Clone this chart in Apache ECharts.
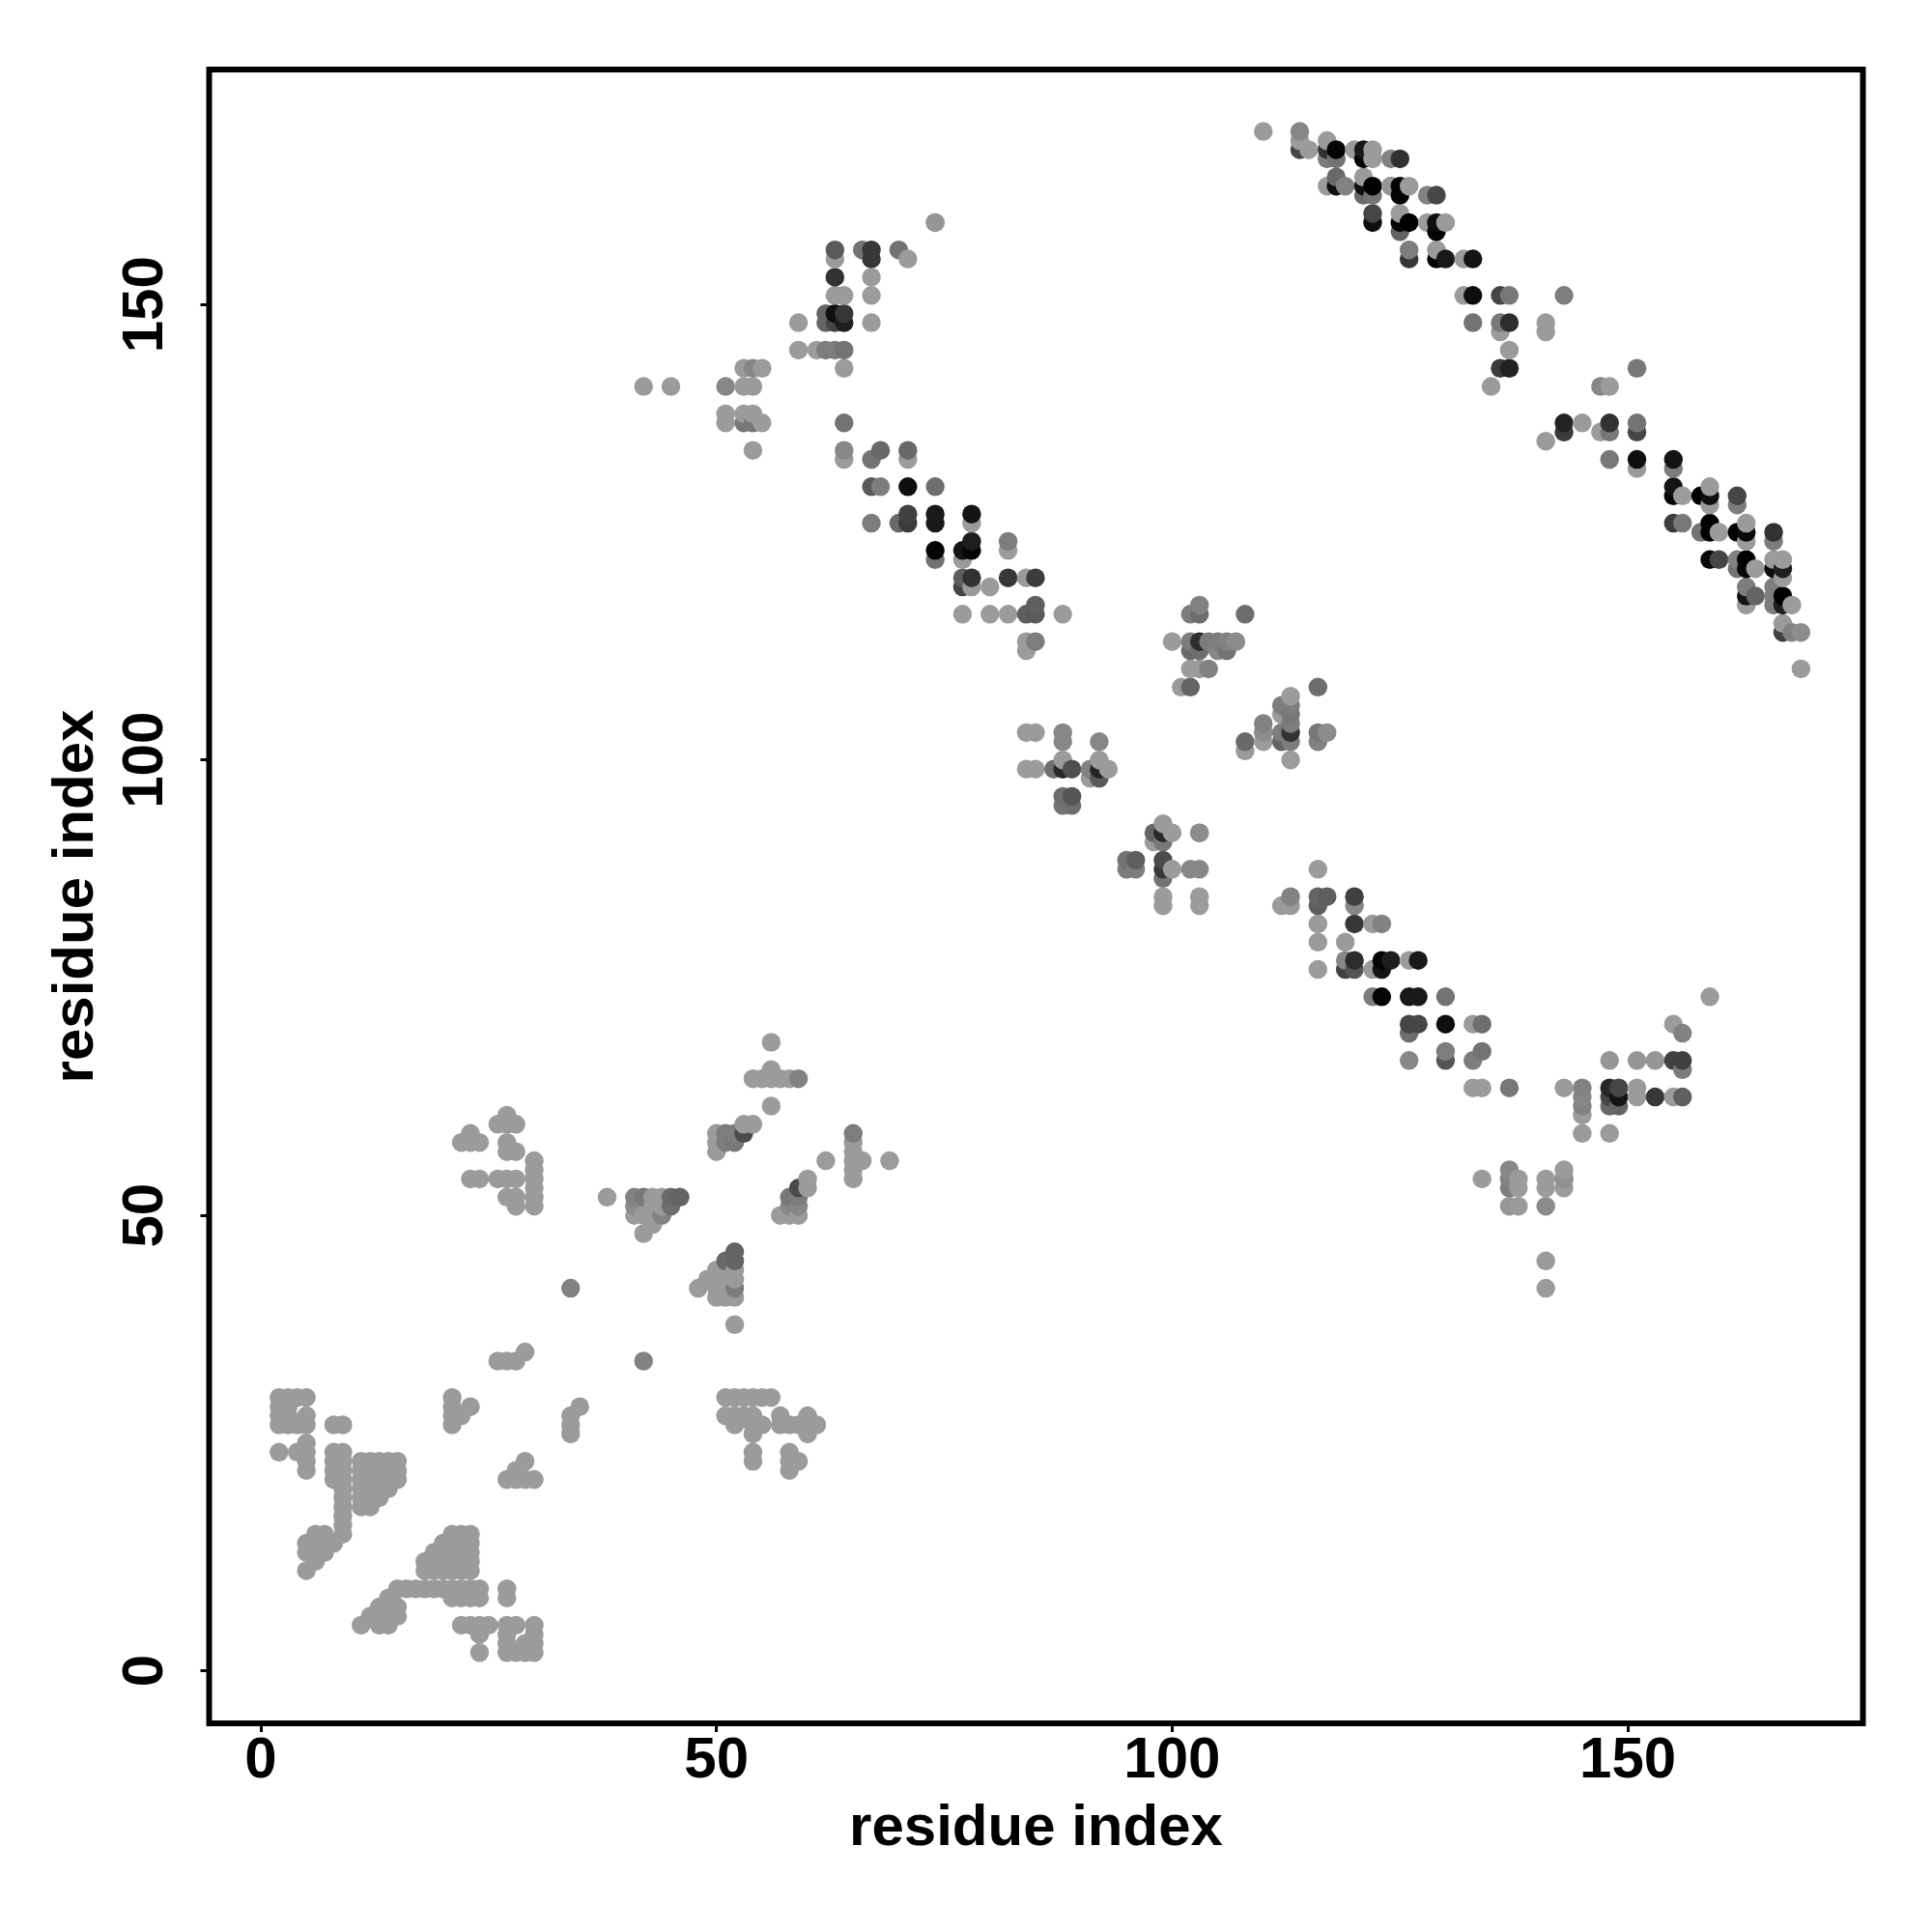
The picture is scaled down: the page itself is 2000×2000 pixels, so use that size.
<!DOCTYPE html>
<html>
<head>
<meta charset="utf-8">
<style>html,body{margin:0;padding:0;background:#fff}#chart{width:2000px;height:2000px}</style>
<script src="https://cdn.jsdelivr.net/npm/echarts@6/dist/echarts.min.js"></script>
</head>
<body>
<div id="chart"></div>
<script>
const xTicks = [0, 50, 100, 150];
const yTicks = [0, 50, 100, 150];
const axisTitle = 'residue index';
const lightGray = 155;

// light contacts: [residue y, [residue x ...]]
const lightRows = [
[169,[110]],[168,[114,117]],[167,[115,120,122]],[166,[122]],[164,[121]],[163,[117,124,126]],
[160,[125]],[159,[74,128,130]],[156,[129]],[155,[63,71,132]],[153,[67]],[151,[63,64,67,132]],
[148,[59,67,141]],[147,[136,141]],[145,[59,61,137]],[143,[53,55,64]],[141,[42,45,53,54,135,148]],
[138,[51,53,54]],[137,[51,55,145]],[136,[147]],[135,[141]],[134,[54]],[133,[64,71]],[132,[151]],
[130,[159]],[129,[156]],[128,[159]],[126,[78,163]],[125,[160]],[124,[163]],[123,[82]],
[122,[77,166,167]],[121,[164]],[120,[84,167]],[119,[78,80]],[117,[163,168]],[116,[77,80,82,88]],
[115,[167]],[113,[84,100]],[112,[84]],[110,[102,103,169]],[108,[101]],[107,[113]],[105,[112]],
[103,[84,85]],[102,[110]],[101,[108]],[100,[88,92,113]],[99,[84,85,93]],[98,[91]],[93,[99]],
[92,[100,103]],[91,[98]],[88,[100,116]],[85,[99,103]],[84,[99,103,112,113]],[82,[116,122]],
[80,[116,119]],[78,[126]],[77,[116,122]],[74,[159]],[71,[133,155]],[69,[56]],[66,[56]],
[65,[54,55,56,57,58]],[64,[133,134,143,151]],[63,[151,155]],[62,[56]],[61,[27,145]],
[60,[26,27,28,53,54]],[59,[23,50,145,148]],[58,[22,23,24,27,50,65]],[57,[27,28,50,65]],
[56,[30,62,65,66,69]],[55,[30,65,143]],[54,[23,24,26,27,28,30,60,65,134,138,141,143]],
[53,[30,60,138,141,143]],[52,[27,28,30,38,43,44]],[51,[28,30,43,44,138]],[50,[41,42,43,44,57,58,59]],
[49,[43]],[48,[42]],[45,[141]],[44,[50,51,52]],[43,[49,50,51,52]],[42,[48,50,51,141]],[41,[50,51,52]],
[38,[52]],[35,[29]],[34,[26,27,28]],[30,[2,3,4,5,21,51,52,53,54,55,56]],[29,[2,3,21,23,35]],
[28,[2,3,5,21,22,34,51,52,53,54,57,60]],[27,[2,3,4,5,8,9,21,34,52,54,55,57,58,59,60,61]],
[26,[34,54,60]],[25,[5]],[24,[2,4,5,8,9,54,58]],[23,[5,8,9,11,12,13,14,15,29,54,58,59]],
[22,[5,8,9,11,12,13,14,15,28,58]],[21,[8,9,11,12,13,14,15,27,28,29,30]],[20,[9,11,12,13,14]],
[19,[9,11,12,13]],[18,[9,11,12]],[17,[9]],[16,[9]],[15,[6,7,9,21,22,23]],[14,[5,6,7,8,20,21,22,23]],
[13,[5,6,7,19,20,21,22,23]],[12,[6,18,19,20,21,22,23]],[11,[5,18,19,20,21,22,23]],
[9,[15,16,17,18,19,20,21,22,23,24,27]],[8,[14,21,22,23,24,27]],[7,[13,14,15]],[6,[12,13,14,15]],
[5,[11,13,14,22,23,24,25,27,28,30]],[4,[24,27,30]],[3,[27,29,30]],[2,[24,27,28,29,30]]
];

// darker contacts in the lower half of the map: [x, y, gray]
const shadedLower = [
[41,52,130],[42,52,120],[45,52,105],[46,52,100],[41,51,140],[45,51,110],[44,50,130],
[34,42,130],[42,34,130],[52,46,100],[51,45,105],[52,45,100],[52,42,125],
[51,59,125],[52,59,125],[53,59,75],[51,58,125],[52,58,120],[59,65,130],
[59,53,75],[58,52,120],[59,52,125],[58,51,135],[59,51,135],[65,59,125]
];
// helix / strand contacts around x 112-159, y 42-88
const shadedMiddleRight = [
[113,85,130],[116,85,100],[117,85,95],[116,84,95],[120,85,65],[120,84,135],
[120,82,55],[123,82,130],[119,78,135],[120,78,45],[123,78,5],[124,78,30],[127,78,25],
[119,77,65],[120,77,85],[123,77,20],[122,74,125],[123,74,5],[126,74,25],[127,74,25],[130,74,115],
[126,71,70],[127,71,70],[130,71,15],[134,71,110],[126,70,110],[130,68,125],[134,68,115],
[126,67,135],[130,67,85],[133,67,125],[137,64,120],[145,64,130],[148,64,40],[149,64,70],
[145,63,135],[148,63,70],[149,63,20],[153,63,55],[156,63,95],[145,62,130],[148,62,105],[149,62,100],
[148,67,150],[151,67,150],[153,67,150],[155,67,65],[156,67,65],[156,66,125],[156,70,130],
[137,55,135],[137,54,130],[137,53,125],[141,51,140],[143,54,145],[137,51,150]
];
// contacts around x 84-117, y 84-117
const shadedCentre = [
[103,117,130],[102,116,125],[103,116,110],[108,116,110],[102,113,125],[103,113,45],[104,113,125],
[105,113,125],[106,113,130],[107,113,140],[102,112,105],[103,112,110],[105,112,135],[106,112,115],
[104,110,130],[102,108,100],[116,108,110],[112,106,125],[113,106,125],[113,105,120],[110,104,130],
[113,104,125],[110,103,140],[112,103,125],[113,103,50],[116,103,120],[117,103,140],[112,102,100],
[113,102,125],[116,102,130],[108,102,105],[88,103,135],[88,102,135],[92,102,135],
[87,99,110],[88,99,40],[89,99,80],[91,99,130],[92,99,35],[92,98,90],[88,96,110],[89,96,85],
[88,95,115],[89,95,110],[95,89,115],[96,89,95],[95,88,125],[96,88,125],[98,92,100],[99,92,40],
[99,91,120],[99,89,75],[99,88,55],[102,88,135],[103,88,135],[99,87,115],[103,92,140]
];
// contacts around x 42-88, y 112-159
const shadedUpperMiddle = [
[63,156,90],[66,156,115],[67,156,55],[67,155,55],[70,156,115],[63,153,50],[62,149,100],[63,149,15],
[64,149,55],[62,148,100],[63,148,70],[64,148,30],[62,145,125],[63,145,125],[64,145,115],
[54,143,135],[51,141,135],[53,137,120],[54,137,120],[64,137,115],[64,134,135],[67,133,115],
[68,134,105],[71,134,105],[67,130,90],[68,130,125],[71,130,15],[74,130,110],[71,127,65],[74,127,25],
[78,127,20],[67,126,125],[70,126,105],[71,126,60],[74,126,25],[78,124,30],[82,124,125],[74,123,5],
[77,123,20],[78,123,5],[74,122,115],[77,120,95],[78,120,50],[82,120,55],[85,120,60],[77,119,70],
[85,117,95],[84,116,95],[85,116,90],[85,113,125],[74,159,150]
];
// top-right diagonal band, x 114-169, y 110-169
const shadedUpperRight = [
[114,169,135],[114,167,70],[117,167,50],[118,167,5],[117,166,125],[118,166,115],[121,167,25],
[121,166,5],[124,166,130],[125,166,50],[118,164,105],[118,163,15],[119,163,130],[121,163,15],
[122,163,0],[124,163,150],[125,163,5],[121,162,105],[122,162,115],[125,162,5],[128,162,130],
[129,162,70],[122,160,70],[122,159,15],[125,159,5],[126,159,0],[129,159,15],[125,158,100],[129,158,5],
[126,156,125],[126,155,55],[129,155,5],[130,155,25],[133,155,20],[133,151,15],[136,151,70],
[137,151,120],[143,151,125],[133,148,115],[136,148,120],[137,148,45],[136,143,60],[137,143,35],
[151,143,120],[147,141,135],[143,137,35],[148,137,50],[151,137,115],[143,136,60],[148,136,120],
[151,136,70],[148,133,120],[151,133,15],[155,133,20],[155,132,125],[155,130,20],[155,129,5],
[158,129,0],[159,129,15],[162,129,70],[162,128,125],[155,126,60],[156,126,120],[159,126,0],
[158,125,115],[159,125,0],[162,125,0],[163,125,10],[166,125,50],[166,124,125],[159,122,10],
[160,122,70],[162,122,130],[163,122,0],[162,121,115],[163,121,5],[166,121,10],[167,121,30],
[163,119,125],[166,119,125],[163,118,20],[164,118,100],[166,118,125],[167,118,0],[166,117,125],
[167,117,30],[167,114,65],[168,114,130],[169,114,140]
];

const lightPoints = [];
lightRows.forEach(function (row) {
  row[1].forEach(function (x) { lightPoints.push([x, row[0], lightGray]); });
});
const contacts = lightPoints.concat(shadedLower, shadedMiddleRight, shadedCentre, shadedUpperMiddle, shadedUpperRight)
  .sort(function (a, b) { return a[0] - b[0] || a[1] - b[1]; });

const fontFamily = '"Liberation Sans", Arial, sans-serif';
const chart = echarts.init(document.getElementById('chart'), null, { renderer: 'canvas' });
chart.setOption({
  animation: false,
  backgroundColor: '#ffffff',
  grid: { show: true, left: 216.5, right: 71.5, top: 72, bottom: 216, borderColor: '#000', borderWidth: 6, backgroundColor: 'transparent' },
  xAxis: {
    type: 'value', min: -5.67, max: 175.8, splitLine: { show: false }, axisLine: { show: false, onZero: false },
    axisTick: { show: true, length: 9, customValues: xTicks, lineStyle: { color: '#000', width: 3 } },
    axisLabel: { customValues: xTicks, margin: 9, color: '#000', fontSize: 60, fontWeight: 'bold', fontFamily: fontFamily },
    name: axisTitle, nameLocation: 'middle', nameGap: 79,
    nameTextStyle: { color: '#000', fontSize: 60, fontWeight: 'bold', fontFamily: fontFamily }
  },
  yAxis: {
    type: 'value', min: -5.77, max: 175.8, splitLine: { show: false }, axisLine: { show: false, onZero: false },
    axisTick: { show: true, length: 9, customValues: yTicks, lineStyle: { color: '#000', width: 3 } },
    axisLabel: { customValues: yTicks, rotate: 90, margin: 65, color: '#000', fontSize: 60, fontWeight: 'bold', fontFamily: fontFamily, align: 'center', verticalAlign: 'middle' },
    name: axisTitle, nameLocation: 'middle', nameGap: 107,
    nameTextStyle: { color: '#000', fontSize: 60, fontWeight: 'bold', fontFamily: fontFamily }
  },
  series: [{
    type: 'scatter',
    symbol: 'circle',
    symbolSize: 19.5,
    data: contacts,
    itemStyle: {
      opacity: 1,
      color: function (p) { const g = p.value[2]; return 'rgb(' + g + ',' + g + ',' + g + ')'; }
    },
    emphasis: { disabled: true },
    silent: true
  }]
});
</script>
</body>
</html>
